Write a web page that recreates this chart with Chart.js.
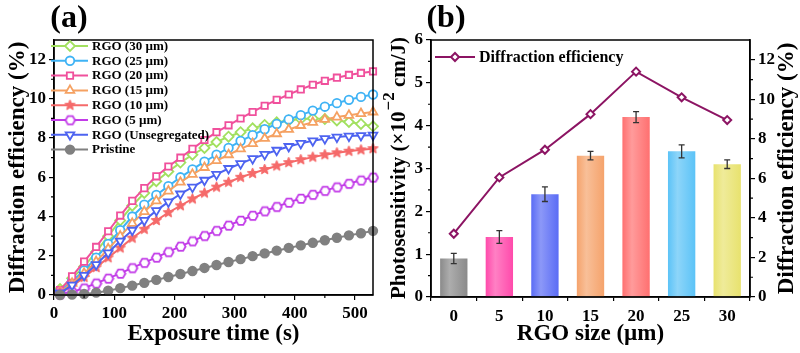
<!DOCTYPE html>
<html>
<head>
<meta charset="utf-8">
<script src="https://cdn.jsdelivr.net/npm/chart.js@4.4.0/dist/chart.umd.min.js"></script>
<style>
  html, body { margin: 0; padding: 0; background: #fff; }
  #wrap { position: relative; width: 800px; height: 353px; overflow: hidden; }
  #ca { position: absolute; left: 0; top: 0; }
  #cb { position: absolute; left: 370px; top: 0; }
</style>
</head>
<body>
<div id="wrap">
  <canvas id="ca" width="400" height="353"></canvas>
  <canvas id="cb" width="430" height="353"></canvas>
</div>
<script>
// ---- panel (a) data: diffraction efficiency (%) vs exposure time (s)
const times = [10, 30, 50, 70, 90, 110, 130, 150, 170, 190, 210, 230, 250, 270, 290, 310, 330, 350, 370, 390, 410, 430, 450, 470, 490, 510, 530];
const rgo30 = [0.3, 0.85, 1.45, 2.2, 3.0, 3.8, 4.55, 5.2, 5.8, 6.3, 6.75, 7.15, 7.5, 7.8, 8.07, 8.3, 8.5, 8.67, 8.8, 8.9, 8.97, 9.0, 8.97, 8.9, 8.82, 8.72, 8.6];
const rgo25 = [0.2, 0.7, 1.25, 1.9, 2.6, 3.3, 4.0, 4.6, 5.1, 5.55, 6.0, 6.4, 6.8, 7.15, 7.5, 7.85, 8.15, 8.45, 8.72, 8.95, 9.17, 9.4, 9.6, 9.78, 9.95, 10.1, 10.22];
const rgo20 = [0.25, 0.95, 1.7, 2.45, 3.25, 4.05, 4.8, 5.45, 6.05, 6.55, 7.0, 7.45, 7.9, 8.3, 8.65, 9.0, 9.33, 9.65, 9.95, 10.22, 10.48, 10.72, 10.92, 11.08, 11.22, 11.32, 11.4];
const rgo15 = [0.15, 0.6, 1.1, 1.7, 2.35, 3.0, 3.65, 4.25, 4.8, 5.3, 5.75, 6.15, 6.5, 6.85, 7.15, 7.45, 7.72, 7.98, 8.22, 8.44, 8.64, 8.8, 8.95, 9.07, 9.16, 9.25, 9.33];
const rgo10 = [0.1, 0.45, 0.9, 1.4, 1.9, 2.4, 2.9, 3.35, 3.8, 4.2, 4.55, 4.9, 5.2, 5.5, 5.75, 6.0, 6.2, 6.4, 6.58, 6.75, 6.9, 7.03, 7.15, 7.25, 7.33, 7.4, 7.46];
const rgo5 = [0.05, 0.15, 0.35, 0.6, 0.85, 1.1, 1.38, 1.65, 1.92, 2.2, 2.48, 2.75, 3.02, 3.28, 3.55, 3.8, 4.05, 4.28, 4.5, 4.72, 4.92, 5.12, 5.32, 5.5, 5.68, 5.85, 6.0];
const rgoUnseg = [0.1, 0.5, 1.0, 1.55, 2.15, 2.75, 3.3, 3.8, 4.3, 4.75, 5.15, 5.5, 5.85, 6.15, 6.45, 6.7, 6.95, 7.17, 7.38, 7.57, 7.73, 7.86, 7.97, 8.05, 8.1, 8.13, 8.15];
const pristine = [0.0, 0.02, 0.05, 0.12, 0.22, 0.35, 0.48, 0.62, 0.77, 0.92, 1.07, 1.22, 1.38, 1.53, 1.68, 1.83, 1.98, 2.12, 2.26, 2.4, 2.53, 2.66, 2.79, 2.92, 3.04, 3.15, 3.27];
const seriesNames = ['RGO (30 µm)', 'RGO (25 µm)', 'RGO (20 µm)', 'RGO (15 µm)', 'RGO (10 µm)', 'RGO (5 µm)', 'RGO (Unsegregated)', 'Pristine'];
const aXTicks = [0, 100, 200, 300, 400, 500];
const aXMinor = [50, 150, 250, 350, 450];
const aYTicks = [0, 2, 4, 6, 8, 10, 12];
const aYMinor = [1, 3, 5, 7, 9, 11];

// ---- panel (b) data
const sizeLabels = ['0', '5', '10', '15', '20', '25', '30'];
const photo = [0.9, 1.4, 2.4, 3.3, 4.2, 3.4, 3.1];
const photoErr = [0.12, 0.15, 0.17, 0.1, 0.13, 0.15, 0.1];
const diffEff = [3.2, 6.05, 7.45, 9.25, 11.4, 10.1, 8.95];
const bYTicks = [0, 1, 2, 3, 4, 5, 6];
const bYMinor = [0.5, 1.5, 2.5, 3.5, 4.5, 5.5];
const bY2Ticks = [0, 2, 4, 6, 8, 10, 12];
const bY2Minor = [1, 3, 5, 7, 9, 11];

const SERIF = '"Liberation Serif", "Times New Roman", serif';
const f = (s) => ({ family: SERIF, size: s, weight: 'bold' });

// custom marker images
function starImg(color, r) {
  const c = document.createElement('canvas');
  c.width = c.height = 2 * r + 4;
  const g = c.getContext('2d');
  g.translate(r + 2, r + 2);
  g.beginPath();
  for (let i = 0; i < 10; i++) {
    const rr = i % 2 ? r * 0.45 : r;
    const a = -Math.PI / 2 + i * Math.PI / 5;
    g.lineTo(rr * Math.cos(a), rr * Math.sin(a));
  }
  g.closePath();
  g.fillStyle = color; g.fill();
  g.strokeStyle = color; g.lineWidth = 1; g.stroke();
  return c;
}
function hexImg(color, r) {
  const c = document.createElement('canvas');
  c.width = c.height = 2 * r + 4;
  const g = c.getContext('2d');
  g.translate(r + 2, r + 2);
  g.beginPath();
  for (let i = 0; i < 6; i++) {
    const a = i * Math.PI / 3;
    g.lineTo(r * Math.cos(a), r * Math.sin(a));
  }
  g.closePath();
  g.fillStyle = '#fff'; g.fill();
  g.strokeStyle = color; g.lineWidth = 1.8; g.stroke();
  return c;
}

const aStyles = [
  { color: '#a2e060', style: 'rectRot', fill: '#fff', r: 5 },
  { color: '#3fb3f5', style: 'circle', fill: '#fff', r: 4.3 },
  { color: '#f0509c', style: 'rect', fill: '#fff', r: 4.5 },
  { color: '#f5a162', style: 'triangle', fill: '#fff', r: 5 },
  { color: '#f56a6a', style: starImg('#f56a6a', 5.5), fill: '#f56a6a', r: 4.5 },
  { color: '#c23be8', style: hexImg('#c23be8', 4.8), fill: '#fff', r: 4.5 },
  { color: '#4d63f0', style: 'triangle', fill: '#fff', r: 5, rot: 180 },
  { color: '#808080', style: 'circle', fill: '#808080', r: 4.3 }
];
const aSeries = [rgo30, rgo25, rgo20, rgo15, rgo10, rgo5, rgoUnseg, pristine];

function minorTicks(ctx, scale, vals, len, vertical, side) {
  ctx.beginPath();
  vals.forEach(v => {
    const p = scale.getPixelForValue(v);
    if (vertical) {
      const x0 = side === 'left' ? scale.right : scale.left;
      const d = side === 'left' ? -len : len;
      ctx.moveTo(x0, p); ctx.lineTo(x0 + d, p);
    } else {
      ctx.moveTo(p, scale.top); ctx.lineTo(p, scale.top + len);
    }
  });
  ctx.stroke();
}

function text(ctx, s, x, y, size, rot) {
  ctx.save();
  ctx.translate(x, y);
  if (rot) ctx.rotate(rot);
  ctx.font = 'bold ' + size + 'px ' + SERIF;
  ctx.fillStyle = '#000';
  ctx.textAlign = 'center';
  ctx.textBaseline = 'middle';
  ctx.fillText(s, 0, 0);
  ctx.restore();
}

const panelA = {
  id: 'panelA',
  afterDraw(chart) {
    const { ctx, chartArea: ca, scales } = chart;
    ctx.save();
    ctx.strokeStyle = '#000';
    ctx.lineWidth = 1.5;
    ctx.strokeRect(ca.left, ca.top, ca.right - ca.left, ca.bottom - ca.top);
    ctx.lineWidth = 1.2;
    minorTicks(ctx, scales.x, aXMinor, 3, false);
    minorTicks(ctx, scales.y, aYMinor, 3, true, 'left');
    // legend
    seriesNames.forEach((name, i) => {
      const st = aStyles[i];
      const y = 46 + i * 14.8;
      ctx.strokeStyle = st.color;
      ctx.lineWidth = 2;
      ctx.beginPath(); ctx.moveTo(51, y); ctx.lineTo(88, y); ctx.stroke();
      ctx.fillStyle = st.fill;
      ctx.lineWidth = 1.8;
      Chart.helpers.drawPoint(ctx, { pointStyle: st.style, radius: st.r, rotation: st.rot || 0, borderWidth: 1.8 }, 70, y);
      ctx.fillStyle = '#000';
      ctx.font = 'bold 13px ' + SERIF;
      ctx.textAlign = 'left';
      ctx.textBaseline = 'middle';
      ctx.fillText(name, 92, y + 0.5);
    });
    ctx.restore();
    text(ctx, '(a)', 69, 19, 32);
    text(ctx, 'Diffraction efficiency (%)', 18, (ca.top + ca.bottom) / 2, 23, -Math.PI / 2);
    text(ctx, 'Exposure time (s)', (ca.left + ca.right) / 2, 334, 23);
  }
};

new Chart(document.getElementById('ca'), {
  type: 'line',
  data: {
    datasets: aSeries.map((arr, i) => ({
      label: seriesNames[i],
      data: times.map((t, k) => ({ x: t, y: arr[k] })),
      borderColor: aStyles[i].color,
      backgroundColor: aStyles[i].fill,
      borderWidth: 2,
      pointStyle: aStyles[i].style,
      pointRadius: aStyles[i].r,
      pointRotation: aStyles[i].rot || 0,
      pointBorderWidth: 1.8,
      pointBorderColor: aStyles[i].color,
      pointBackgroundColor: aStyles[i].fill,
      tension: 0,
      clip: 6,
      order: 7 - i
    }))
  },
  options: {
    responsive: false,
    animation: false,
    events: [],
    layout: { padding: { top: 40, right: 27, left: 0, bottom: 0 } },
    plugins: { legend: { display: false }, tooltip: { enabled: false } },
    scales: {
      x: {
        type: 'linear', min: 0, max: 530,
        afterBuildTicks: s => { s.ticks = aXTicks.map(v => ({ value: v })); },
        afterFit: s => { s.height = 58; },
        ticks: { font: f(17), color: '#000', padding: 3, maxRotation: 0 },
        grid: { drawOnChartArea: false, color: '#000', lineWidth: 1.2, tickLength: 5 },
        border: { color: '#000', width: 1.5 }
      },
      y: {
        min: 0, max: 13,
        afterBuildTicks: s => { s.ticks = aYTicks.map(v => ({ value: v })); },
        afterFit: s => { s.width = 54; },
        ticks: { font: f(17), color: '#000', padding: 3 },
        grid: { drawOnChartArea: false, color: '#000', lineWidth: 1.2, tickLength: 5 },
        border: { color: '#000', width: 1.5 }
      }
    }
  },
  plugins: [panelA]
});

// ---- panel (b)
const barBase = ['#8a8a8a', '#ff4aab', '#5a6cf5', '#f5a36c', '#ff7070', '#5cc3f7', '#e8e26e'];
function lighten(hex, k) {
  const n = parseInt(hex.slice(1), 16);
  const r = (n >> 16) & 255, g = (n >> 8) & 255, b = n & 255;
  const m = v => Math.round(v + (255 - v) * k);
  return 'rgb(' + m(r) + ',' + m(g) + ',' + m(b) + ')';
}
function barFill(ctx) {
  const chart = ctx.chart;
  const i = ctx.dataIndex;
  const xs = chart.scales.x;
  if (!chart.chartArea || !xs || xs.width === 0) return barBase[i];
  const cx = xs.getPixelForValue(i);
  const hw = (xs.width / sizeLabels.length) * 0.6 / 2;
  const gr = chart.ctx.createLinearGradient(cx - hw, 0, cx + hw, 0);
  gr.addColorStop(0, barBase[i]);
  gr.addColorStop(0.35, lighten(barBase[i], 0.3));
  gr.addColorStop(1, barBase[i]);
  return gr;
}

function photoTitle(ctx, cx, cy) {
  ctx.save();
  ctx.translate(cx, cy);
  ctx.rotate(-Math.PI / 2);
  ctx.fillStyle = '#000';
  ctx.textAlign = 'left';
  ctx.textBaseline = 'middle';
  const big = 'bold 21px ' + SERIF, small = 'bold 17px ' + SERIF;
  const a = 'Photosensitivity (×10', b = '−2', c = ' cm/J)';
  ctx.font = big;
  const wa = ctx.measureText(a).width, wc = ctx.measureText(c).width;
  ctx.font = small;
  const wb = ctx.measureText(b).width;
  let x = -(wa + wb + wc) / 2;
  ctx.font = big; ctx.fillText(a, x, 0); x += wa;
  ctx.font = small; ctx.fillText(b, x + 1, -10); x += wb + 1;
  ctx.font = big; ctx.fillText(c, x, 0);
  ctx.restore();
}

const panelB = {
  id: 'panelB',
  afterDatasetsDraw(chart) {
    const { ctx, scales } = chart;
    const meta = chart.getDatasetMeta(1);
    ctx.save();
    ctx.strokeStyle = '#333';
    ctx.lineWidth = 1.3;
    meta.data.forEach((bar, i) => {
      const yt = scales.y.getPixelForValue(photo[i] + photoErr[i]);
      const yb = scales.y.getPixelForValue(photo[i] - photoErr[i]);
      ctx.beginPath();
      ctx.moveTo(bar.x, yt); ctx.lineTo(bar.x, yb);
      ctx.moveTo(bar.x - 3, yt); ctx.lineTo(bar.x + 3, yt);
      ctx.moveTo(bar.x - 3, yb); ctx.lineTo(bar.x + 3, yb);
      ctx.stroke();
    });
    ctx.restore();
  },
  afterDraw(chart) {
    const { ctx, chartArea: ca, scales } = chart;
    ctx.save();
    ctx.strokeStyle = '#000';
    ctx.lineWidth = 1.5;
    ctx.strokeRect(ca.left, ca.top, ca.right - ca.left, ca.bottom - ca.top);
    ctx.lineWidth = 1.2;
    minorTicks(ctx, scales.y, bYMinor, 3, true, 'left');
    minorTicks(ctx, scales.y2, bY2Minor, 3, true, 'right');
    // legend
    const ly = 57;
    ctx.strokeStyle = '#8c1463';
    ctx.lineWidth = 2;
    ctx.beginPath(); ctx.moveTo(ca.left + 4, ly); ctx.lineTo(ca.left + 44, ly); ctx.stroke();
    ctx.fillStyle = '#fff';
    Chart.helpers.drawPoint(ctx, { pointStyle: 'rectRot', radius: 4, rotation: 0, borderWidth: 2 }, ca.left + 24, ly);
    ctx.fillStyle = '#000';
    ctx.font = 'bold 16px ' + SERIF;
    ctx.textAlign = 'left';
    ctx.textBaseline = 'middle';
    ctx.fillText('Diffraction efficiency', ca.left + 48, ly + 1);
    ctx.restore();
    text(ctx, '(b)', 76, 19, 32);
    photoTitle(ctx, 30, (ca.top + ca.bottom) / 2);
    text(ctx, 'Diffraction efficiency (%)', 417, (ca.top + ca.bottom) / 2, 23, -Math.PI / 2);
    text(ctx, 'RGO size (µm)', (ca.left + ca.right) / 2, 334, 23);
  }
};

new Chart(document.getElementById('cb'), {
  data: {
    labels: sizeLabels,
    datasets: [
      {
        type: 'line', label: 'Diffraction efficiency', data: diffEff, yAxisID: 'y2',
        borderColor: '#8c1463', borderWidth: 2, pointStyle: 'rectRot', pointRadius: 4,
        pointBorderWidth: 2, pointBackgroundColor: '#fff', pointBorderColor: '#8c1463',
        tension: 0, order: 0
      },
      {
        type: 'bar', label: 'Photosensitivity', data: photo, yAxisID: 'y',
        backgroundColor: barFill, barPercentage: 0.6, categoryPercentage: 1, order: 1
      }
    ]
  },
  options: {
    responsive: false,
    animation: false,
    events: [],
    layout: { padding: { top: 40, right: 0, left: 0, bottom: 0 } },
    plugins: { legend: { display: false }, tooltip: { enabled: false } },
    scales: {
      x: {
        type: 'category', offset: true,
        afterFit: s => { s.height = 56; },
        ticks: { font: f(17), color: '#000', padding: 5, maxRotation: 0 },
        grid: { offset: true, drawOnChartArea: false, color: '#000', lineWidth: 1.2, tickLength: 4 },
        border: { color: '#000', width: 1.5 }
      },
      y: {
        position: 'left', min: 0, max: 6,
        afterBuildTicks: s => { s.ticks = bYTicks.map(v => ({ value: v })); },
        afterFit: s => { s.width = 61; },
        ticks: { font: f(17), color: '#000', padding: 3 },
        grid: { drawOnChartArea: false, color: '#000', lineWidth: 1.2, tickLength: 5 },
        border: { color: '#000', width: 1.5 }
      },
      y2: {
        position: 'right', min: 0, max: 13,
        afterBuildTicks: s => { s.ticks = bY2Ticks.map(v => ({ value: v })); },
        afterFit: s => { s.width = 50; },
        ticks: { font: f(17), color: '#000', padding: 3 },
        grid: { drawOnChartArea: false, color: '#000', lineWidth: 1.2, tickLength: 5 },
        border: { color: '#000', width: 1.5 }
      }
    }
  },
  plugins: [panelB]
});
</script>
</body>
</html>
